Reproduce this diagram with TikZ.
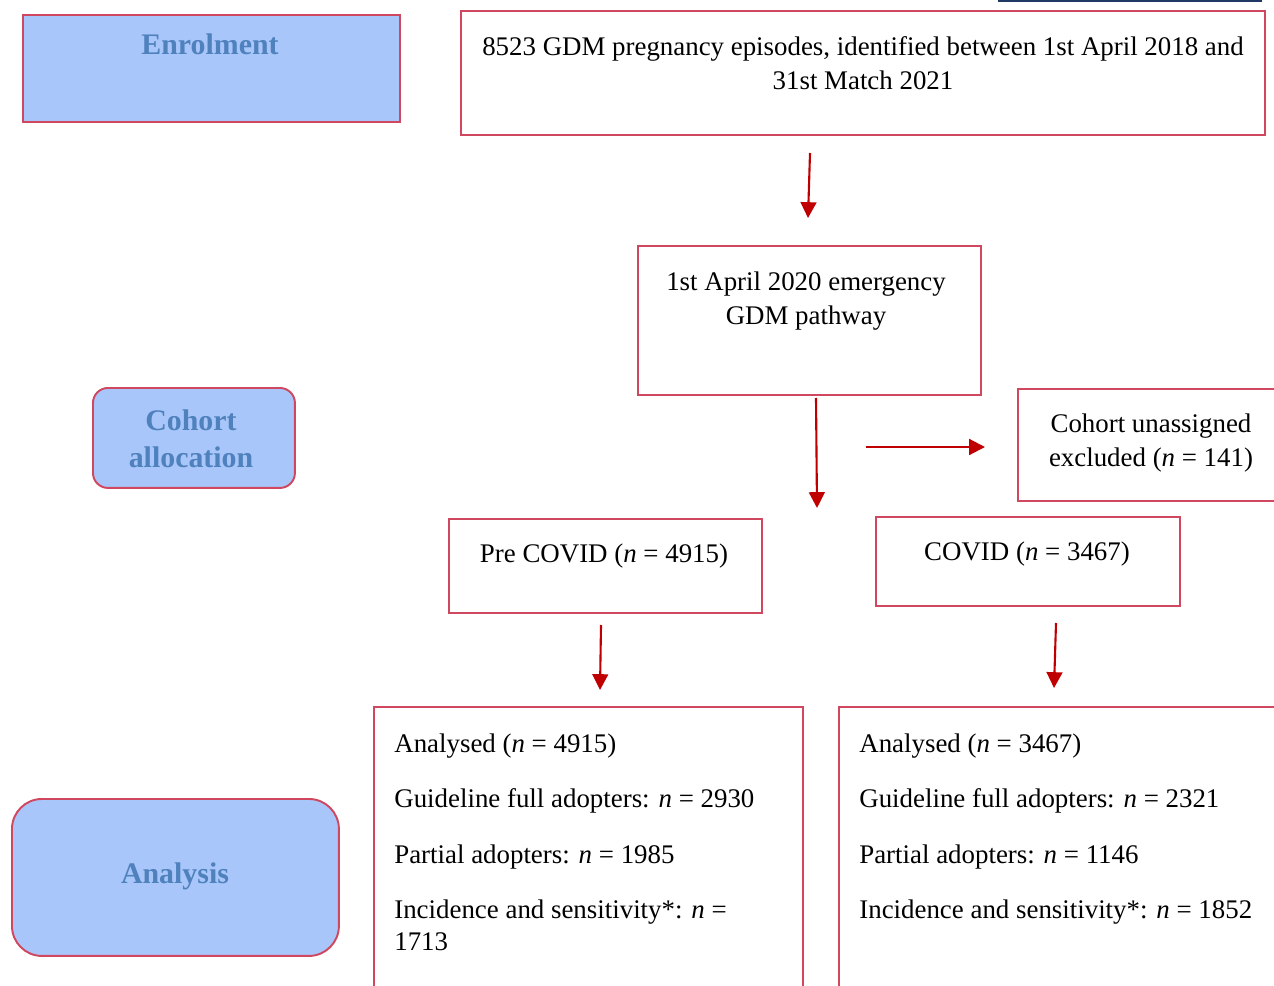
\documentclass[tikz,border=0pt]{standalone}
\usepackage{fontspec}
\setmainfont{Liberation Serif}
\usetikzlibrary{positioning,arrows.meta}

\definecolor{boxred}{RGB}{208,72,95}
\definecolor{headfill}{RGB}{168,198,250}
\definecolor{headtext}{RGB}{79,129,189}
\definecolor{arrowred}{RGB}{192,0,0}
\definecolor{topline}{RGB}{31,56,100}

\tikzset{
  box/.style={draw=boxred, line width=1.1pt, anchor=north west, inner sep=0pt},
  headbox/.style={box, fill=headfill},
  headtxt/.style={font=\fontsize{17}{21}\selectfont\bfseries, text=headtext, align=center},
  bodytxt/.style={font=\fontsize{15.3}{19.3}\selectfont, align=center},
  listtxt/.style={font=\fontsize{15.3}{18}\selectfont, align=left, anchor=north west, inner sep=0pt},
  flow/.style={draw=arrowred, line width=1.2pt, -{Triangle[length=9pt,width=9pt]}},
}

\begin{document}
\begin{tikzpicture}[x=0.02cm, y=-0.02cm]
    \useasboundingbox (0,0) rectangle (1274,986);
    \clip (0,0) rectangle (1274,986);

    % Stage labels on the left
    \node[headbox, minimum width=7.54cm, minimum height=2.14cm] (enrol) at (22,14) {};
    \node[headtxt] (enrolTxt) at (210,44) {Enrolment};
    \node[headbox, rounded corners=0.3cm, minimum width=4.04cm, minimum height=2cm] (alloc) at (92,387) {};
    \node[headtxt] (allocTxt) at (191,439) {Cohort\\allocation};
    \node[headbox, rounded corners=0.6cm, minimum width=6.54cm, minimum height=3.14cm] (anal) at (11,798) {};
    \node[headtxt] (analTxt) at (175,876) {Analysis};

    % Flow boxes
    \node[box, minimum width=16.08cm, minimum height=2.48cm] (episodes) at (460,10) {};
    \node[bodytxt] (episodesTxt) at (863,63) {8523 GDM pregnancy episodes, identified between 1st April 2018 and\\31st Match 2021};
    \draw[topline, line width=1.2pt] (998,0.5) -- (1262,0.5);

    \node[box, minimum width=6.86cm, minimum height=2.98cm] (pathway) at (637,245) {};
    \node[bodytxt] (pathwayTxt) at (806,301) {1st April 2020 emergency\\GDM pathway};

    \node[box, minimum width=6cm, minimum height=2.24cm] (excl) at (1017,388) {};
    \node[bodytxt] (exclTxt) at (1151,443) {Cohort unassigned\\excluded (\textit{n} = 141)};

    \node[box, minimum width=6.26cm, minimum height=1.88cm] (pre) at (448,518) {};
    \node[bodytxt] (preTxt) at (604,556) {Pre COVID (\textit{n} = 4915)};
    \node[box, minimum width=6.08cm, minimum height=1.78cm] (covid) at (875,516) {};
    \node[bodytxt] (covidTxt) at (1027,554) {COVID (\textit{n} = 3467)};

    \node[box, minimum width=8.58cm, minimum height=8cm] (preAn) at (373,706) {};
    \node[listtxt] (preAnTxt) at (394,733) {Analysed (\textit{n} = 4915)\\[13.6pt]
        Guideline full adopters: \textit{n} = 2930\\[13.6pt]
        Partial adopters: \textit{n} = 1985\\[13.6pt]
        Incidence and sensitivity*: \textit{n} =\\1713};
    \node[box, minimum width=10cm, minimum height=8cm] (covidAn) at (838,706) {};
    \node[listtxt] (covidAnTxt) at (859,733) {Analysed (\textit{n} = 3467)\\[13.6pt]
        Guideline full adopters: \textit{n} = 2321\\[13.6pt]
        Partial adopters: \textit{n} = 1146\\[13.6pt]
        Incidence and sensitivity*: \textit{n} = 1852};

    % Arrows
    \coordinate (a1) at (810,153); \coordinate (b1) at (808,218);
    \coordinate (a2) at (816,398); \coordinate (b2) at (817,508);
    \coordinate (a3) at (866,447); \coordinate (b3) at (985,447);
    \coordinate (a4) at (601,625); \coordinate (b4) at (600,690);
    \coordinate (a5) at (1056,623); \coordinate (b5) at (1054,688);
    \foreach \i in {1,...,5} {
        \draw[flow] (a\i) -- (b\i);
    }
\end{tikzpicture}
\end{document}
